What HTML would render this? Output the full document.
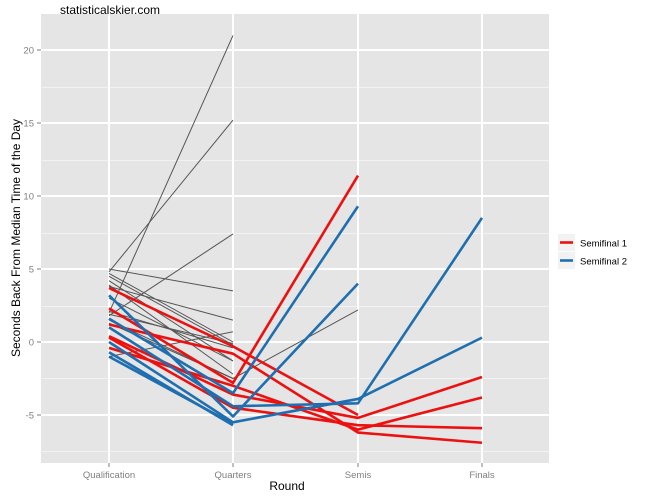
<!DOCTYPE html>
<html><head><meta charset="utf-8"><style>
html,body{margin:0;padding:0;background:#fff;}
svg{display:block;font-family:"Liberation Sans",sans-serif;}
</style></head><body>
<svg width="650" height="500" viewBox="0 0 650 500">
<rect x="41" y="14" width="508" height="449" fill="#e5e5e5"/>
<g stroke="#f2f2f2" stroke-width="1">
<line x1="41" x2="549" y1="87.5" y2="87.5"/><line x1="41" x2="549" y1="160.5" y2="160.5"/>
<line x1="41" x2="549" y1="233.5" y2="233.5"/><line x1="41" x2="549" y1="306.5" y2="306.5"/>
<line x1="41" x2="549" y1="378.5" y2="378.5"/><line x1="41" x2="549" y1="451.5" y2="451.5"/>
</g>
<g stroke="#fff" stroke-width="2">
<line x1="41" x2="549" y1="50" y2="50"/><line x1="41" x2="549" y1="123" y2="123"/>
<line x1="41" x2="549" y1="196" y2="196"/><line x1="41" x2="549" y1="269" y2="269"/>
<line x1="41" x2="549" y1="342" y2="342"/><line x1="41" x2="549" y1="415" y2="415"/>
<line x1="109" x2="109" y1="14" y2="463"/><line x1="233" x2="233" y1="14" y2="463"/>
<line x1="358" x2="358" y1="14" y2="463"/><line x1="482" x2="482" y1="14" y2="463"/>
</g>
<g transform="translate(0,342) scale(1,-14.6)" fill="none" stroke-linejoin="round">
<g stroke="#555" stroke-width="1" vector-effect="non-scaling-stroke">
<polyline vector-effect="non-scaling-stroke" points="109,2.0 233,21.0"/>
<polyline vector-effect="non-scaling-stroke" points="109,4.8 233,15.2"/>
<polyline vector-effect="non-scaling-stroke" points="109,1.8 233,7.4"/>
<polyline vector-effect="non-scaling-stroke" points="109,5.0 233,3.5"/>
<polyline vector-effect="non-scaling-stroke" points="109,3.8 233,1.5"/>
<polyline vector-effect="non-scaling-stroke" points="109,-1.0 233,0.7"/>
<polyline vector-effect="non-scaling-stroke" points="109,4.7 233,0.0"/>
<polyline vector-effect="non-scaling-stroke" points="109,4.5 233,-0.2"/>
<polyline vector-effect="non-scaling-stroke" points="109,4.2 233,-1.3"/>
<polyline vector-effect="non-scaling-stroke" points="109,3.9 233,-2.2"/>
<polyline vector-effect="non-scaling-stroke" points="109,3.0 233,-1.3"/>
<polyline vector-effect="non-scaling-stroke" points="109,1.9 233,-0.1"/>
<polyline vector-effect="non-scaling-stroke" points="109,1.5 233,-2.5"/>
<polyline vector-effect="non-scaling-stroke" points="109,2.1 233,-0.4"/>
<polyline vector-effect="non-scaling-stroke" points="109,1.3 233,-2.5 358,2.2"/>
</g>
<g stroke="#e41a1c" stroke="#ee0000">
<polyline stroke="#ec1111" stroke-width="2.6" vector-effect="non-scaling-stroke" points="109,3.7 233,-0.3 358,-5.0"/>
<polyline stroke="#ec1111" stroke-width="2.6" vector-effect="non-scaling-stroke" points="109,2.3 233,-2.8 358,11.4"/>
<polyline stroke="#ec1111" stroke-width="2.6" vector-effect="non-scaling-stroke" points="109,1.2 233,-0.8 358,-6.2 482,-6.9"/>
<polyline stroke="#ec1111" stroke-width="2.6" vector-effect="non-scaling-stroke" points="109,0.4 233,-3.6 358,-5.2 482,-2.4"/>
<polyline stroke="#ec1111" stroke-width="2.6" vector-effect="non-scaling-stroke" points="109,0.3 233,-4.5 358,-5.7 482,-5.9"/>
<polyline stroke="#ec1111" stroke-width="2.6" vector-effect="non-scaling-stroke" points="109,-0.4 233,-3.0 358,-6.0 482,-3.8"/>
</g>
<g>
<polyline stroke="#1f6fb0" stroke-width="2.6" vector-effect="non-scaling-stroke" points="109,1.6 233,-3.5 358,9.3"/>
<polyline stroke="#1f6fb0" stroke-width="2.6" vector-effect="non-scaling-stroke" points="109,3.2 233,-5.1 358,4.0"/>
<polyline stroke="#1f6fb0" stroke-width="2.6" vector-effect="non-scaling-stroke" points="109,1.0 233,-4.4 358,-4.2 482,8.5"/>
<polyline stroke="#1f6fb0" stroke-width="2.6" vector-effect="non-scaling-stroke" points="109,0.0 233,-5.5 358,-3.9 482,0.3"/>
<polyline stroke="#1f6fb0" stroke-width="2.6" vector-effect="non-scaling-stroke" points="109,-0.7 233,-5.7"/>
<polyline stroke="#1f6fb0" stroke-width="2.6" vector-effect="non-scaling-stroke" points="109,-1.0 233,-5.6"/>
</g>
</g>
<g stroke="#7f7f7f" stroke-width="1">
<line x1="37" x2="41" y1="50" y2="50"/><line x1="37" x2="41" y1="123" y2="123"/>
<line x1="37" x2="41" y1="196" y2="196"/><line x1="37" x2="41" y1="269" y2="269"/>
<line x1="37" x2="41" y1="342" y2="342"/><line x1="37" x2="41" y1="415" y2="415"/>
<line x1="109" x2="109" y1="463" y2="467"/><line x1="233" x2="233" y1="463" y2="467"/>
<line x1="358" x2="358" y1="463" y2="467"/><line x1="482" x2="482" y1="463" y2="467"/>
</g>
<g fill="#7f7f7f" font-size="9.5" text-anchor="end">
<text x="34" y="53.5">20</text><text x="34" y="126.5">15</text><text x="34" y="199.5">10</text>
<text x="34" y="272.5">5</text><text x="34" y="345.5">0</text><text x="34" y="418.5">-5</text>
</g>
<g fill="#7f7f7f" font-size="9.5" text-anchor="middle">
<text x="109" y="478">Qualification</text><text x="233" y="478">Quarters</text>
<text x="358" y="478">Semis</text><text x="482" y="478">Finals</text>
</g>
<text x="287" y="490" font-size="12" text-anchor="middle">Round</text>
<text transform="translate(20,238) rotate(-90)" font-size="12" text-anchor="middle">Seconds Back From Median Time of the Day</text>
<text x="60" y="14" font-size="12">statisticalskier.com</text>
<rect x="558" y="234" width="17" height="17" fill="#f2f2f2"/>
<rect x="558" y="252" width="17" height="17" fill="#f2f2f2"/>
<line x1="560" x2="573" y1="242.5" y2="242.5" stroke="#ec1111" stroke-width="2.6"/>
<line x1="560" x2="573" y1="260.5" y2="260.5" stroke="#1f6fb0" stroke-width="2.6"/>
<text x="580" y="246.5" font-size="9.5">Semifinal 1</text>
<text x="580" y="264.5" font-size="9.5">Semifinal 2</text>
</svg>
</body></html>
